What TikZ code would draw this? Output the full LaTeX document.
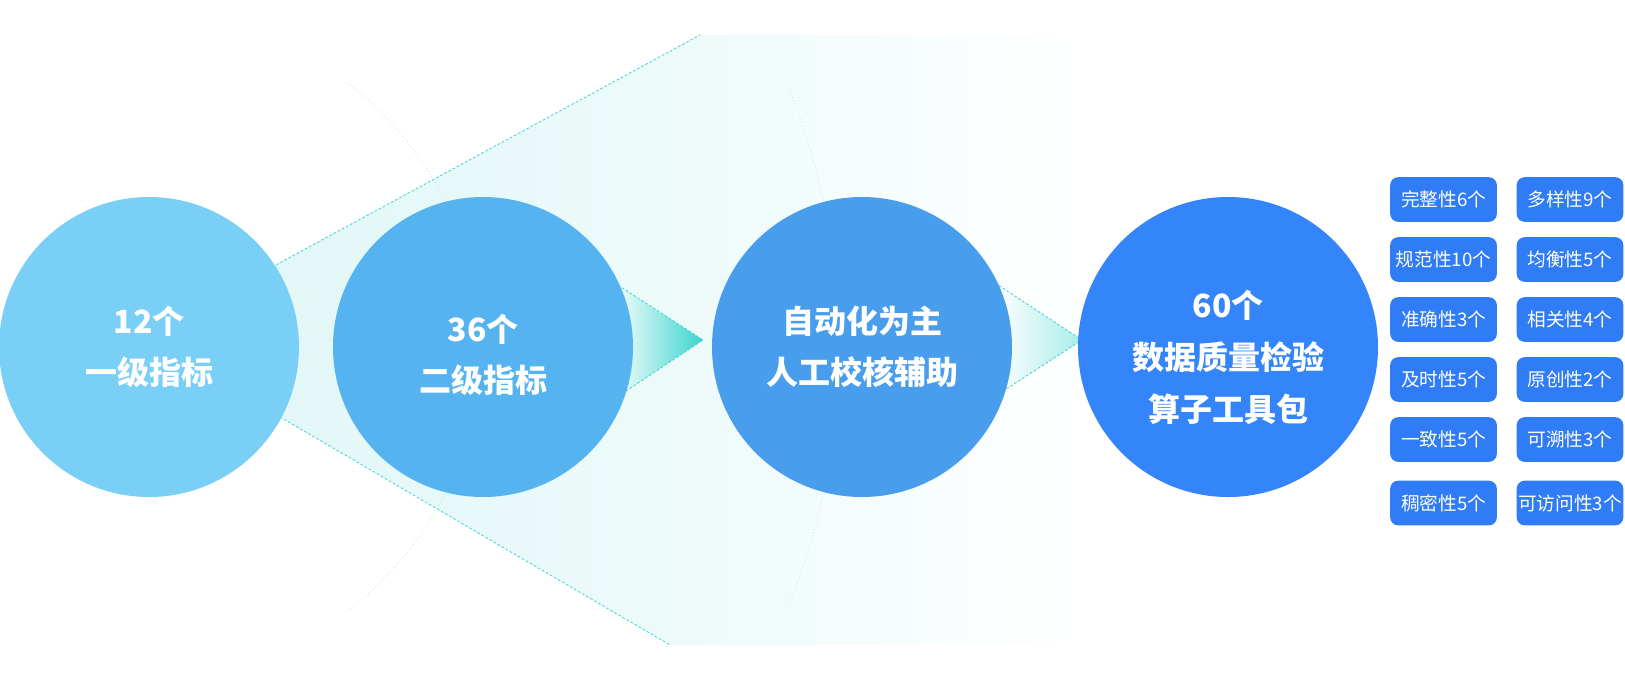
\documentclass[tikz,border=0pt]{standalone}
\usepackage{fontspec}
\setmainfont{Noto Sans CJK SC}
\newfontfamily\cjkb{Noto Sans CJK SC}[BoldFont={* Bold}]
\usetikzlibrary{shadings}
\definecolor{cA}{HTML}{7ACFF7}
\definecolor{cB}{HTML}{55B4F0}
\definecolor{cC}{HTML}{489DEC}
\definecolor{cD}{HTML}{3484FA}
\definecolor{bx}{HTML}{2F7CF6}
\definecolor{teal}{HTML}{3DD5CE}
\definecolor{fan}{HTML}{E2F7F7}
\begin{document}
\begin{tikzpicture}[x=0.75pt,y=-0.75pt,
  circ/.style={circle,minimum size=225pt,inner sep=0pt,draw=none},
  ctext/.style={text=white,font=\fontsize{24}{38}\selectfont\bfseries,align=center},
  tag/.style={fill=bx,rounded corners=6pt,minimum width=80pt,minimum height=33.5pt,inner sep=0pt,text=white,font=\fontsize{14}{16}\selectfont},
  dline/.style={teal,dashed,line width=0.6pt,dash pattern=on 2pt off 1.5pt},
  arcl/.style={teal!50,dotted,line width=0.5pt}]
\useasboundingbox (0,0) rectangle (1625,683);
\fill[white] (0,0) rectangle (1625,683);
% big fan
\shade[left color=fan,right color=white,middle color=fan!60]
  (272,267) -- (700,35) -- (1090,35) -- (1090,645) -- (670,645) -- (280,417) -- cycle;
\draw[arcl] (149,347) ++(53:330) arc (53:-53:330);
\draw[arcl] (149,347) ++(22:690) arc (22:-22:690);
\draw[dline] (272,267) -- (700,35);
\draw[dline] (280,417) -- (670,645);
% small funnels
\shade[left color=white,right color=teal] (610,280) -- (703,340) -- (620,395) -- cycle;
\draw[dline] (610,280) -- (703,340) -- (620,395);
\shade[left color=white,right color=teal!45] (995,283) -- (1082,340) -- (1000,393) -- cycle;
\draw[dline] (995,283) -- (1082,340) -- (1000,393);
% circles
\node[circ,fill=cA] (c1) at (149,347) {};
\node[circ,fill=cB] (c2) at (483,347) {};
\node[circ,fill=cC] (c3) at (862,347) {};
\node[circ,fill=cD] (c4) at (1228,347) {};
\node[ctext] (t1) at (c1) {12个\\一级指标};
\node[ctext] (t2) at ([yshift=-6]c2) {36个\\二级指标};
\node[ctext] (t3) at (c3) {自动化为主\\人工校核辅助};
\node[ctext,font=\fontsize{24}{39}\selectfont\bfseries] (t4) at ([yshift=-8]c4) {60个\\数据质量检验\\算子工具包};
% tags
\foreach \n/\y/\a/\b in {1/199.5/完整性6个/多样性9个, 2/259.5/规范性10个/均衡性5个, 3/319.5/准确性3个/相关性4个, 4/379.5/及时性5个/原创性2个, 5/439.5/一致性5个/可溯性3个, 6/503/稠密性5个/可访问性3个}{
  \node[tag] (l\n) at (1443.5,\y) {\a};
  \node[tag] (r\n) at (1570,\y) {\b};
}
\end{tikzpicture}
\end{document}
